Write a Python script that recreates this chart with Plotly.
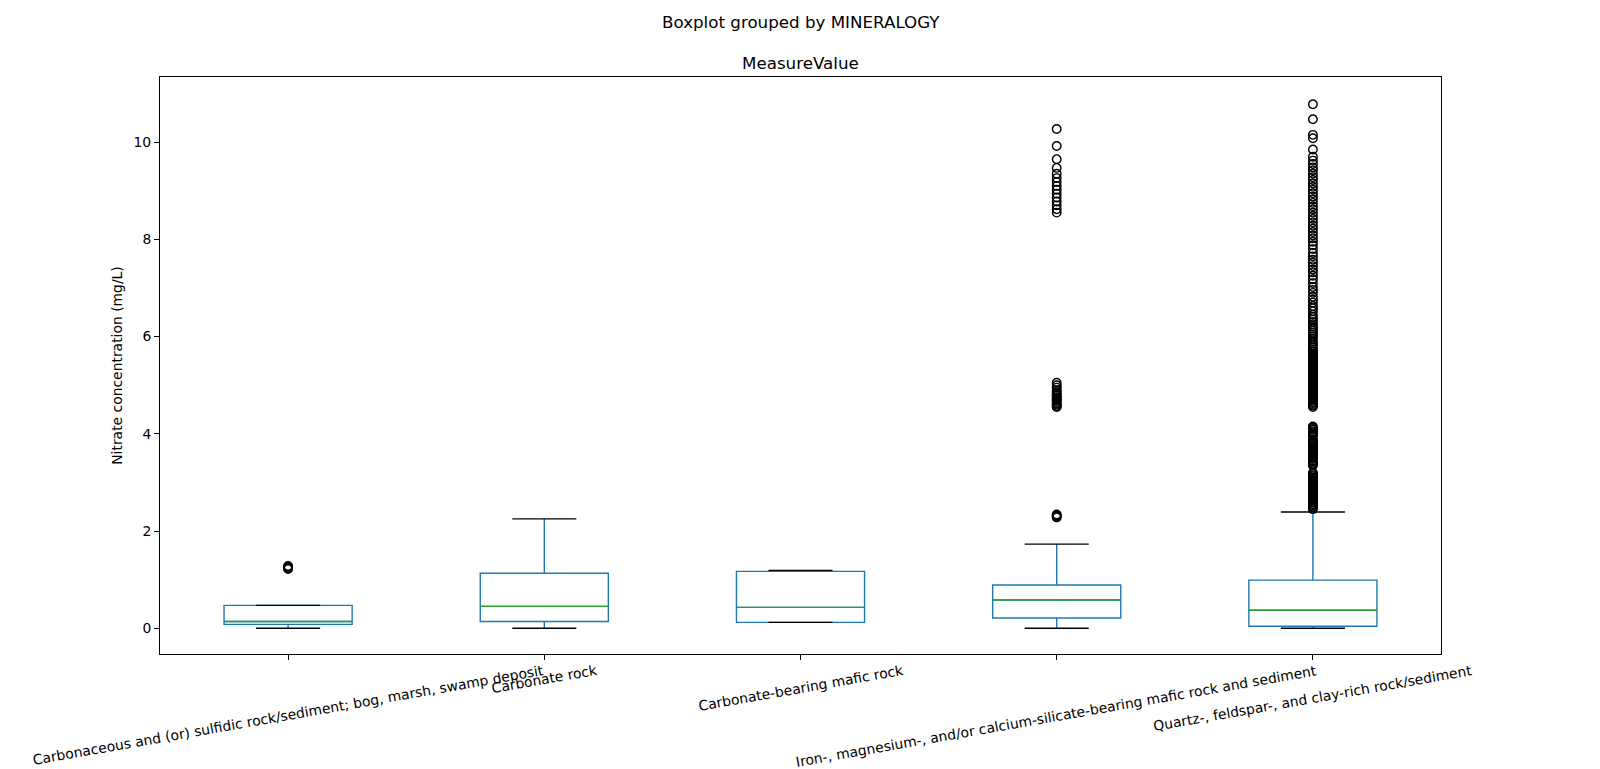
import plotly.graph_objects as go

# categories (MINERALOGY groups) and their box statistics
categories = [
    "Carbonaceous and (or) sulfidic rock/sediment; bog, marsh, swamp deposit",
    "Carbonate rock",
    "Carbonate-bearing mafic rock",
    "Iron-, magnesium-, and/or calcium-silicate-bearing mafic rock and sediment",
    "Quartz-, feldspar-, and clay-rich rock/sediment",
]
positions = [1, 2, 3, 4, 5]
q1 = [0.08, 0.14, 0.12, 0.21, 0.04]
median = [0.14, 0.45, 0.43, 0.58, 0.37]
q3 = [0.47, 1.13, 1.17, 0.89, 0.99]
lower_whisker = [0.0, 0.0, 0.12, 0.0, 0.0]
upper_whisker = [0.47, 2.25, 1.19, 1.73, 2.39]

# outliers (fliers) per group
fliers_carbonaceous = [1.22, 1.24, 1.26, 1.28]
fliers_carbonate = []
fliers_mafic = []
fliers_iron = [
    2.28, 2.30, 2.32, 2.34,
    4.55, 4.57, 4.60, 4.62, 4.65, 4.68, 4.70, 4.72, 4.75, 4.78, 4.80,
    4.83, 4.86, 4.90, 4.95, 5.00, 5.05,
    8.55, 8.62, 8.70, 8.78, 8.86, 8.94, 9.02, 9.10, 9.18, 9.26, 9.35,
    9.47, 9.65, 9.92, 10.27,
]
fliers_quartz = [
    2.45, 2.48, 2.50, 2.53, 2.55, 2.58, 2.60, 2.63, 2.65, 2.68, 2.70,
    2.73, 2.75, 2.78, 2.80, 2.83, 2.85, 2.88, 2.90, 2.93, 2.95, 2.98,
    3.00, 3.03, 3.05, 3.08, 3.10, 3.13, 3.15, 3.18, 3.20,
    3.35, 3.38, 3.40, 3.43, 3.45, 3.48, 3.50, 3.53, 3.55, 3.58, 3.60,
    3.63, 3.65, 3.68, 3.70, 3.73, 3.75, 3.78, 3.80, 3.83, 3.85, 3.88,
    3.95, 3.98, 4.00, 4.03, 4.05, 4.08, 4.10, 4.13, 4.15,
    4.55, 4.58, 4.60, 4.63, 4.65, 4.68, 4.70, 4.73, 4.75, 4.78, 4.80,
    4.83, 4.85, 4.88, 4.90, 4.93, 4.95, 4.98, 5.00, 5.03, 5.05, 5.08,
    5.10, 5.13, 5.15, 5.18, 5.20, 5.23, 5.25, 5.28, 5.30, 5.33, 5.35,
    5.38, 5.40, 5.43, 5.45, 5.48, 5.50, 5.53, 5.55, 5.58, 5.60, 5.63,
    5.65, 5.68, 5.70, 5.74, 5.78, 5.82, 5.86, 5.90, 5.95, 6.00, 6.04,
    6.08, 6.12, 6.16, 6.20, 6.25, 6.30, 6.35, 6.40, 6.45, 6.52, 6.58,
    6.63, 6.70, 6.76, 6.82, 6.90, 6.96, 7.02, 7.10, 7.18, 7.25, 7.32,
    7.38, 7.45, 7.52, 7.58, 7.65, 7.72, 7.80, 7.88, 7.95, 8.02, 8.08,
    8.15, 8.22, 8.28, 8.35, 8.42, 8.48, 8.55, 8.62, 8.68, 8.75, 8.82,
    8.88, 8.95, 9.02, 9.08, 9.15, 9.22, 9.28, 9.35, 9.42, 9.48, 9.55,
    9.62, 9.70, 9.85, 10.08, 10.15, 10.47, 10.78,
]
fliers = [fliers_carbonaceous, fliers_carbonate, fliers_mafic, fliers_iron, fliers_quartz]

box_width = 0.5
blue = "#1f77b4"
green = "#2ca02c"
font = "DejaVu Sans"

fig = go.Figure()

# boxes + whiskers
fig.add_trace(go.Box(
    x=positions, q1=q1, median=median, q3=q3,
    lowerfence=lower_whisker, upperfence=upper_whisker,
    width=box_width, whiskerwidth=0,
    line=dict(color=blue, width=1.4), fillcolor="rgba(0,0,0,0)",
    boxpoints=False, showlegend=False,
))

# caps (black) and medians (green)
cap_x, cap_y, med_x, med_y = [], [], [], []
for p, lo, hi, m in zip(positions, lower_whisker, upper_whisker, median):
    for v in (lo, hi):
        cap_x += [p - box_width / 4, p + box_width / 4, None]
        cap_y += [v, v, None]
    med_x += [p - box_width / 2, p + box_width / 2, None]
    med_y += [m, m, None]

fig.add_trace(go.Scatter(x=cap_x, y=cap_y, mode="lines",
                         line=dict(color="black", width=1.4), showlegend=False))
fig.add_trace(go.Scatter(x=med_x, y=med_y, mode="lines",
                         line=dict(color=green, width=1.4), showlegend=False))

# fliers
for p, f in zip(positions, fliers):
    if f:
        fig.add_trace(go.Scatter(
            x=[p] * len(f), y=f, mode="markers",
            marker=dict(symbol="circle-open", size=8.5, color="black", line=dict(width=1.4)),
            showlegend=False,
        ))

# rotated x tick labels, centred on ticks like matplotlib
for p, c in zip(positions, categories):
    fig.add_annotation(x=p, xref="x", y=0, yref="paper", text=c, showarrow=False,
                       textangle=-10, xanchor="center", yanchor="top", yshift=-6,
                       font=dict(family=font, size=13.9, color="black"))

fig.add_annotation(x=0.5, xref="paper", y=1, yref="paper", text="MeasureValue",
                   showarrow=False, yanchor="middle", yshift=14,
                   font=dict(family=font, size=16.7, color="black"))
fig.add_annotation(x=0.5, xref="paper", y=1, yref="paper", text="Boxplot grouped by MINERALOGY",
                   showarrow=False, yanchor="middle", yshift=55,
                   font=dict(family=font, size=16.7, color="black"))

fig.update_layout(
    width=1600, height=769,
    margin=dict(l=160, r=159, t=77, b=115),
    paper_bgcolor="white", plot_bgcolor="white",
    font=dict(family=font, size=13.9, color="black"),
    xaxis=dict(range=[0.5, 5.5], tickvals=positions, showticklabels=False,
               ticks="outside", ticklen=5, tickcolor="black",
               showline=True, linecolor="black", linewidth=1, mirror=True,
               showgrid=False, zeroline=False),
    yaxis=dict(range=[-0.53, 11.34], tickvals=[0, 2, 4, 6, 8, 10],
               ticks="outside", ticklen=5, tickcolor="black",
               showline=True, linecolor="black", linewidth=1, mirror=True,
               showgrid=False, zeroline=False,
               title=dict(text="Nitrate concentration (mg/L)", standoff=7,
                          font=dict(family=font, size=13.9))),
)

# page without body margin so the figure fills the window exactly
fig.write_html("out.html", config={"displayModeBar": False},
               post_script="document.body.style.margin='0';document.body.style.overflow='hidden';")
